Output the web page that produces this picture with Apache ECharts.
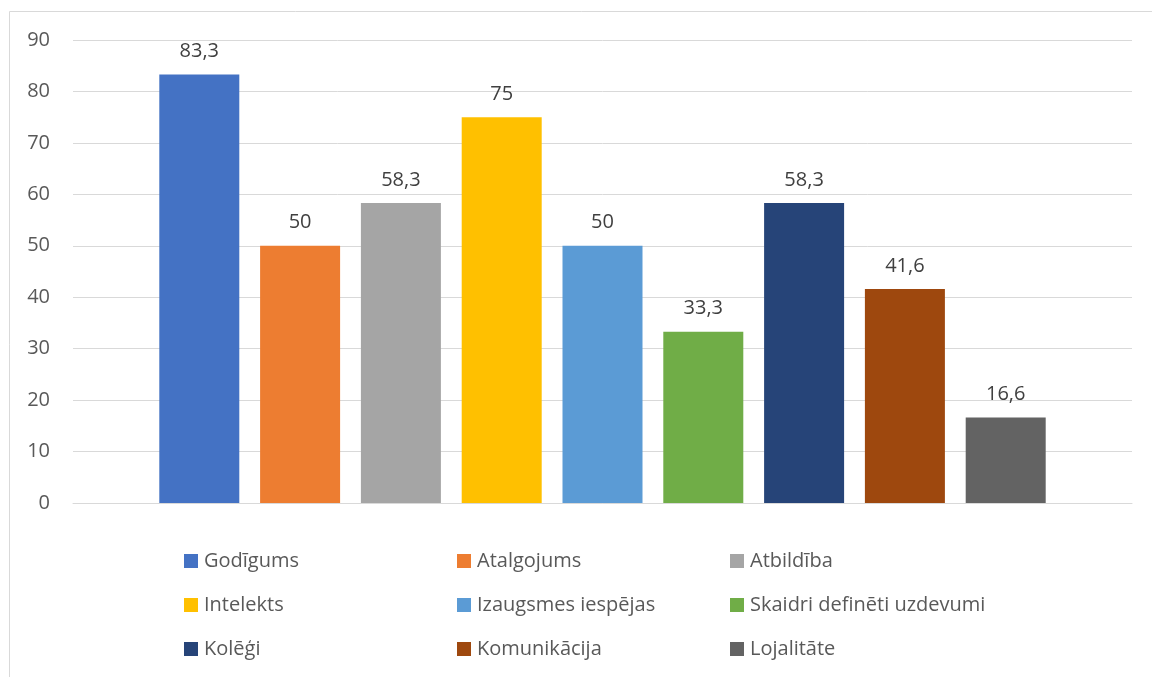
<!DOCTYPE html>
<html><head><meta charset="utf-8">
<script src="https://cdn.jsdelivr.net/npm/echarts@6/dist/echarts.min.js"></script>
<style>html,body{margin:0;padding:0;background:#fff}#c{width:1152px;height:677px}</style>
</head><body><div id="c"></div>
<script>
const names = ['Godīgums','Atalgojums','Atbildība','Intelekts','Izaugsmes iespējas','Skaidri definēti uzdevumi','Kolēģi','Komunikācija','Lojalitāte'];
const values = [83.3, 50, 58.3, 75, 50, 33.3, 58.3, 41.6, 16.6];
const colors = ['#4472C4','#ED7D31','#A5A5A5','#FFC000','#5B9BD5','#70AD47','#264478','#9E480E','#636363'];
const yTicks = [0,10,20,30,40,50,60,70,80,90];

const FONT = '"Open Sans", "Noto Sans", sans-serif';
const chart = echarts.init(document.getElementById('c'));
const series = names.map((n,i)=>({
  name:n, type:'bar', data:[values[i]], barWidth:80, barGap:'26%',
  itemStyle:{color:colors[i]},
  label:{show:true, position:'top', distance:13, color:'#404040', fontSize:20, fontFamily:FONT,
    formatter:p=>String(p.value).replace('.',',')}
}));
const legendCol = (k, left) => ({
  orient:'vertical', left:left, top:546, padding:5, itemWidth:14, itemHeight:14, itemGap:24,
  icon:'rect', data:[names[k], names[k+3], names[k+6]],
  textStyle:{color:'#595959', fontSize:20, fontFamily:FONT, padding:[0,0,0,1]},
  selectedMode:false
});
chart.setOption({
  animation:false,
  color:colors,
  grid:{left:73, right:20, top:40, bottom:174},
  graphic:[{type:'rect', shape:{x:9.5,y:11.5,width:1160,height:700}, style:{fill:'none', stroke:'#d9d9d9', lineWidth:1}, silent:true}],
  legend:[legendCol(0,179), legendCol(1,452), legendCol(2,725)],
  xAxis:{type:'category', data:[''], axisLine:{lineStyle:{color:'#d9d9d9'}}, axisTick:{show:false}, axisLabel:{show:false}},
  yAxis:{type:'value', min:yTicks[0], max:yTicks[yTicks.length-1], interval:10,
    axisLabel:{color:'#595959', fontSize:20, fontFamily:FONT, margin:23},
    splitLine:{lineStyle:{color:'#d9d9d9'}}, axisLine:{show:false}, axisTick:{show:false}},
  series:series
});
</script></body></html>
